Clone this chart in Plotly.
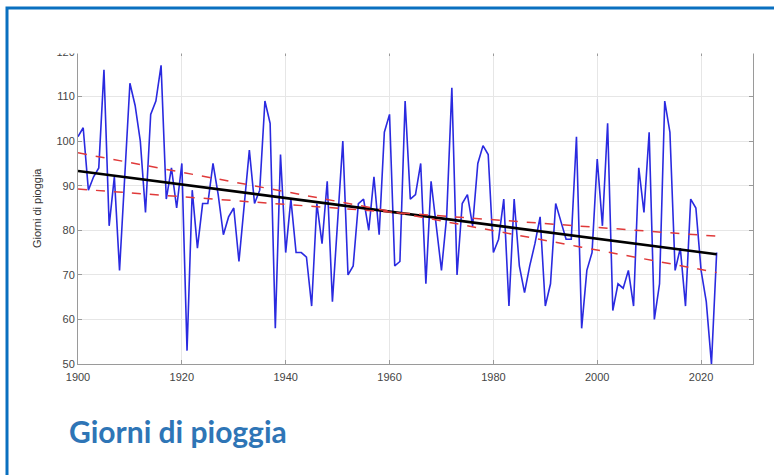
import numpy as np
import plotly.graph_objects as go

years = list(range(1900, 2024))
rain_days = [
    101, 103, 89, 92, 94, 116, 81, 92, 71, 92,      # 1900-1909
    113, 108, 100, 84, 106, 109, 117, 87, 94, 85,   # 1910-1919
    95, 53, 89, 76, 86, 86, 95, 88, 79, 83,         # 1920-1929
    85, 73, 86, 98, 86, 89, 109, 104, 58, 97,       # 1930-1939
    75, 87, 75, 75, 74, 63, 86, 77, 91, 64,         # 1940-1949
    82, 100, 70, 72, 86, 87, 80, 92, 79, 102,       # 1950-1959
    106, 72, 73, 109, 87, 88, 95, 68, 91, 81,       # 1960-1969
    71, 83, 112, 70, 86, 88, 81, 95, 99, 97,        # 1970-1979
    75, 78, 87, 63, 87, 72, 66, 72, 77, 83,         # 1980-1989
    63, 68, 86, 82, 78, 78, 101, 58, 71, 75,        # 1990-1999
    96, 81, 104, 62, 68, 67, 71, 63, 94, 84,        # 2000-2009
    102, 60, 68, 109, 102, 71, 76, 63, 87, 85,      # 2010-2019
    71, 64, 50, 75,                                 # 2020-2023
]
x_ticks = [1900, 1920, 1940, 1960, 1980, 2000, 2020]
y_ticks = [50, 60, 70, 80, 90, 100, 110, 120]
y_title = "Giorni di pioggia"
chart_title = "Giorni di pioggia"

x = np.array(years, dtype=float)
y = np.array(rain_days, dtype=float)
b, a = np.polyfit(x, y, 1)
trend = a + b * x
res = y - trend
n = len(x)
xm, ym = x.mean(), y.mean()
sxx = ((x - xm) ** 2).sum()
se_b = np.sqrt((res ** 2).sum() / (n - 2) / sxx)
band_hi = ym + (b + 1.96 * se_b) * (x - xm)
band_lo = ym + (b - 1.96 * se_b) * (x - xm)

fig = go.Figure()
fig.add_trace(go.Scatter(x=years, y=rain_days, mode="lines",
                         line=dict(color="#2a2ae0", width=1.6), showlegend=False))
fig.add_trace(go.Scatter(x=years, y=trend, mode="lines",
                         line=dict(color="black", width=2.6), showlegend=False))
fig.add_trace(go.Scatter(x=years, y=band_hi, mode="lines",
                         line=dict(color="#e03a3a", width=1.5, dash="dash"), showlegend=False))
fig.add_trace(go.Scatter(x=years, y=band_lo, mode="lines",
                         line=dict(color="#e03a3a", width=1.5, dash="dash"), showlegend=False))

axis_common = dict(showline=True, linecolor="#9a9a9a", linewidth=1, mirror="ticks",
                   ticks="inside", ticklen=4, tickcolor="#9a9a9a",
                   showgrid=True, gridcolor="#e6e6e6", gridwidth=1, zeroline=False,
                   tickfont=dict(family="Liberation Sans, Arial, sans-serif", size=11, color="#444444"))

fig.update_xaxes(range=[1900, 2030], tickvals=x_ticks, ticklabelstandoff=3, **axis_common)
fig.update_yaxes(range=[50, 120], tickvals=y_ticks, **axis_common)

L, R, T, B = 78, 21, 52, 111
W, H = 774, 475
pw, ph = W - L - R, H - T - B

def px(xp):
    return (xp - L) / pw

def py(yp):
    return (H - B - yp) / ph

fig.update_layout(
    width=W, height=H,
    margin=dict(l=L, r=R, t=T, b=B),
    paper_bgcolor="white", plot_bgcolor="white",
    hovermode=False,
    shapes=[
        dict(type="rect", xref="paper", yref="paper", layer="above",
             x0=px(0), x1=px(W + 10), y0=py(T + 1.5), y1=py(0),
             fillcolor="white", line=dict(width=0)),
        dict(type="rect", xref="paper", yref="paper", layer="above",
             x0=px(7), x1=px(W + 20), y0=py(H + 20), y1=py(8),
             fillcolor="rgba(0,0,0,0)", line=dict(color="#0a70c0", width=3)),
    ],
    annotations=[
        dict(text=y_title, xref="paper", yref="paper", x=px(37), y=0.5,
             textangle=-90, showarrow=False, xanchor="center", yanchor="middle",
             font=dict(family="Liberation Sans, Arial, sans-serif", size=11, color="#333333")),
        dict(text="<b>" + chart_title + "</b>", xref="paper", yref="paper",
             x=px(67), y=py(431), xanchor="left", yanchor="middle", showarrow=False,
             font=dict(family="Lato, sans-serif", size=30, color="#2e75b6")),
    ],
)

fig.write_html("out.html", config={"displayModeBar": False, "staticPlot": True},
               post_script="document.body.style.margin='0';document.body.style.overflow='hidden';")
